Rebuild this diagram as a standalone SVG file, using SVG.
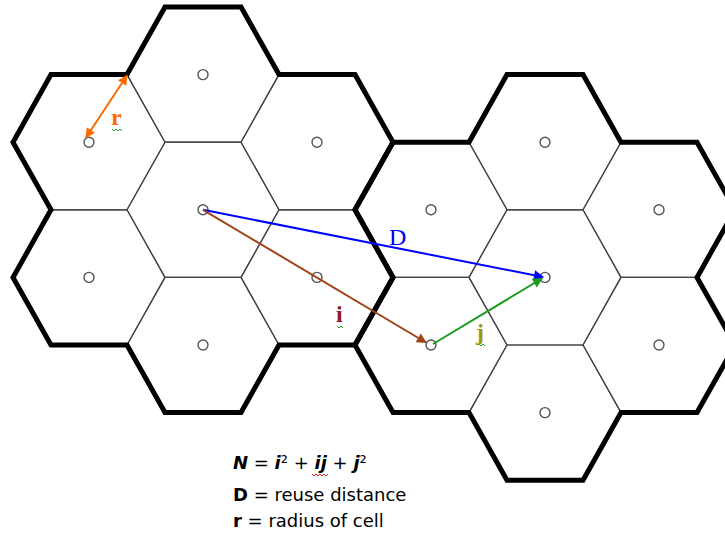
<svg xmlns="http://www.w3.org/2000/svg" width="725" height="533" viewBox="0 0 725 533">
<style>
.cell{fill:none;stroke:#444;stroke-width:1.2;stroke-linejoin:round}
.bs{fill:#fff;stroke:#555;stroke-width:1.4}
.outline{fill:none;stroke:#000;stroke-width:5;stroke-linejoin:miter}
.conn{fill:none;stroke-width:2}
.lbl{font-family:"Liberation Serif","Times New Roman",serif;font-size:24px}
.leg{font-family:"DejaVu Sans",Verdana,sans-serif;font-size:18px;fill:#000}
.bi{font-weight:bold;font-style:italic}
.b{font-weight:bold}
.sq{fill:none;stroke-width:1}
</style>
<defs>
<marker id="ah-orange" viewBox="0 0 10 10" refX="9" refY="5" markerWidth="6" markerHeight="5" orient="auto-start-reverse" markerUnits="strokeWidth"><path d="M0,0 L10,5 L0,10 z" fill="#ff6a00"/></marker>
<marker id="ah-blue" viewBox="0 0 10 10" refX="9" refY="5" markerWidth="6" markerHeight="5" orient="auto" markerUnits="strokeWidth"><path d="M0,0 L10,5 L0,10 z" fill="#0000ff"/></marker>
<marker id="ah-brown" viewBox="0 0 10 10" refX="9" refY="5" markerWidth="6" markerHeight="5" orient="auto" markerUnits="strokeWidth"><path d="M0,0 L10,5 L0,10 z" fill="#9e4418"/></marker>
<marker id="ah-green" viewBox="0 0 10 10" refX="9" refY="5" markerWidth="6" markerHeight="5" orient="auto" markerUnits="strokeWidth"><path d="M0,0 L10,5 L0,10 z" fill="#1e9a1e"/></marker>
</defs>
<rect width="725" height="533" fill="#fff"/>

<g id="cluster-left">
<g id="cell-A1"><polygon class="cell" points="127,209.8 165,142.2 241,142.2 279,209.8 241,277.4 165,277.4"/><circle class="bs" cx="203" cy="209.8" r="5"/></g>
<g id="cell-A2"><polygon class="cell" points="127,74.6 165,7 241,7 279,74.6 241,142.2 165,142.2"/><circle class="bs" cx="203" cy="74.6" r="5"/></g>
<g id="cell-A3"><polygon class="cell" points="127,345 165,277.4 241,277.4 279,345 241,412.6 165,412.6"/><circle class="bs" cx="203" cy="345" r="5"/></g>
<g id="cell-A4"><polygon class="cell" points="13,142.2 51,74.6 127,74.6 165,142.2 127,209.8 51,209.8"/><circle class="bs" cx="89" cy="142.2" r="5"/></g>
<g id="cell-A5"><polygon class="cell" points="13,277.4 51,209.8 127,209.8 165,277.4 127,345 51,345"/><circle class="bs" cx="89" cy="277.4" r="5"/></g>
<g id="cell-A6"><polygon class="cell" points="241,142.2 279,74.6 355,74.6 393,142.2 355,209.8 279,209.8"/><circle class="bs" cx="317" cy="142.2" r="5"/></g>
<g id="cell-A7"><polygon class="cell" points="241,277.4 279,209.8 355,209.8 393,277.4 355,345 279,345"/><circle class="bs" cx="317" cy="277.4" r="5"/></g>
<path id="outline-left" class="outline" d="M127,74.6 L165,7 L241,7 L279,74.6 L355,74.6 L393,142.2 L355,209.8 L393,277.4 L355,345 L279,345 L241,412.6 L165,412.6 L127,345 L51,345 L13,277.4 L51,209.8 L13,142.2 L51,74.6 Z"/>
</g>

<g id="cluster-right">
<g id="cell-B1"><polygon class="cell" points="469,277.4 507,209.8 583,209.8 621,277.4 583,345 507,345"/><circle class="bs" cx="545" cy="277.4" r="5"/></g>
<g id="cell-B2"><polygon class="cell" points="469,142.2 507,74.6 583,74.6 621,142.2 583,209.8 507,209.8"/><circle class="bs" cx="545" cy="142.2" r="5"/></g>
<g id="cell-B3"><polygon class="cell" points="469,412.6 507,345 583,345 621,412.6 583,480.2 507,480.2"/><circle class="bs" cx="545" cy="412.6" r="5"/></g>
<g id="cell-B4"><polygon class="cell" points="355,209.8 393,142.2 469,142.2 507,209.8 469,277.4 393,277.4"/><circle class="bs" cx="431" cy="209.8" r="5"/></g>
<g id="cell-B5"><polygon class="cell" points="355,345 393,277.4 469,277.4 507,345 469,412.6 393,412.6"/><circle class="bs" cx="431" cy="345" r="5"/></g>
<g id="cell-B6"><polygon class="cell" points="583,209.8 621,142.2 697,142.2 735,209.8 697,277.4 621,277.4"/><circle class="bs" cx="659" cy="209.8" r="5"/></g>
<g id="cell-B7"><polygon class="cell" points="583,345 621,277.4 697,277.4 735,345 697,412.6 621,412.6"/><circle class="bs" cx="659" cy="345" r="5"/></g>
<path id="outline-right" class="outline" d="M469,142.2 L507,74.6 L583,74.6 L621,142.2 L697,142.2 L735,209.8 L697,277.4 L735,345 L697,412.6 L621,412.6 L583,480.2 L507,480.2 L469,412.6 L393,412.6 L355,345 L393,277.4 L355,209.8 L393,142.2 Z"/>
</g>

<g id="connectors">
<line id="arrow-r" class="conn" x1="86" y1="137.5" x2="127" y2="75.5" stroke="#ff6a00" marker-start="url(#ah-orange)" marker-end="url(#ah-orange)"/>
<line id="arrow-D" class="conn" x1="203" y1="209.8" x2="543" y2="277" stroke="#0000ff" marker-end="url(#ah-blue)"/>
<line id="arrow-i" class="conn" x1="203" y1="209.8" x2="426" y2="342.5" stroke="#9e4418" marker-end="url(#ah-brown)"/>
<line id="arrow-j" class="conn" x1="433" y1="344" x2="542" y2="278.5" stroke="#1e9a1e" marker-end="url(#ah-green)"/>
</g>

<g id="labels">
<text class="lbl" x="111" y="125" fill="#ff6a00" font-weight="bold">r</text>
<polyline class="sq" stroke="#2a9a2a" points="112,129 114,131 116,129 118,131 120,129 122,131"/>
<text class="lbl" x="389" y="245" fill="#0000ff">D</text>
<text class="lbl" x="336" y="322" fill="#8b1c2c" font-weight="bold">i</text>
<polyline class="sq" stroke="#2a9a2a" points="337,326 339,328 341,326 343,328"/>
<text class="lbl" x="476" y="340" fill="#9a9a10" font-weight="bold">j</text>
<polyline class="sq" stroke="#2a9a2a" points="479,344 481,346 483,344 485,346"/>
</g>

<g id="legend">
<text class="leg" x="233" y="469"><tspan class="bi">N</tspan> = <tspan class="bi">i</tspan>² + <tspan class="bi">ij</tspan> + <tspan class="bi">j</tspan>²</text>
<polyline class="sq" stroke="#e02020" points="312,474 314,476 316,474 318,476 320,474 322,476 324,474 326,476 328,474"/>
<text class="leg" x="233" y="501"><tspan class="b">D</tspan> = reuse distance</text>
<text class="leg" x="233" y="527"><tspan class="b">r</tspan> = radius of cell</text>
</g>
</svg>
